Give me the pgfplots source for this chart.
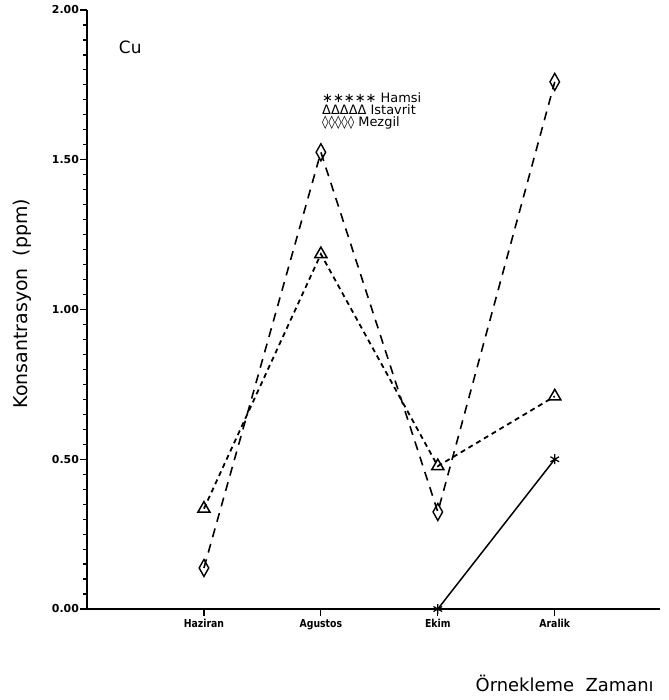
\documentclass[border=0pt]{standalone}
\usepackage{fontspec}
\setmainfont{DejaVu Sans}
\newfontfamily\condfont[FakeStretch=0.85]{DejaVu Sans}
\usepackage{pgfplots}
\pgfplotsset{compat=1.18}

\begin{document}
\begin{tikzpicture}
% page = 669 x 700 bp, axis origin at (87,91) from lower left
\useasboundingbox (-87bp,-91bp) rectangle (582bp,609bp);
\begin{axis}[
    at={(0,0)}, anchor=south west,
    scale only axis,
    width=573bp, height=599bp,
    xmin=0, xmax=4.9, ymin=0, ymax=2,
    axis lines=left,
    axis line style={-, line width=1.5pt},
    clip=false,
    xtick={1,2,3,4},
    xticklabels={Haziran,Agustos,Ekim,Aralik},
    ytick={0,0.5,1,1.5,2},
    yticklabels={0.00,0.50,1.00,1.50,2.00},
    minor y tick num=9,
    tick align=outside,
    major tick length=6.5bp,
    minor tick length=4bp,
    tick style={black, line width=1.2pt},
    y tick label style={font=\bfseries\fontsize{11}{11}\selectfont, xshift=2bp},
    x tick label style={font=\condfont\bfseries\fontsize{11}{11}\selectfont},
    ylabel={Konsantrasyon\ \ (ppm)},
    ylabel style={font=\fontsize{19}{19}\selectfont, at={(axis description cs:-0.113,0.51)}, anchor=center},
    xlabel={Örnekleme\ \ Zamanı},
    xlabel style={font=\fontsize{18}{18}\selectfont, at={(axis description cs:0.995,-0.1235)}, anchor=east},
]
% Hamsi
\addplot[black, line width=1.5pt, mark=asterisk, mark size=5bp, mark options={solid, line width=1.2pt}]
    coordinates {(3,0) (4,0.50)};
% Istavrit
\addplot[black, line width=1.8pt, dash pattern=on 5bp off 4bp, mark=triangle, mark size=7bp, mark options={solid, line width=1.5pt}]
    coordinates {(1,0.335) (2,1.185) (3,0.477) (4,0.71)};
% Mezgil
\addplot[black, line width=1.6pt, dash pattern=on 9bp off 7bp, mark=diamond, mark size=8.5bp, mark options={solid, xscale=0.75, line width=1.4pt}]
    coordinates {(1,0.137) (2,1.525) (3,0.324) (4,1.76)};

\node[font=\fontsize{17}{17}\selectfont] at (axis cs:0.37,1.875) {Cu};
\node[anchor=west, align=left, font=\fontsize{13}{12}\selectfont, inner sep=0pt]
    at (axis cs:2.01,1.663) {∗∗∗∗∗ Hamsi\\ΔΔΔΔΔ Istavrit\\◊◊◊◊◊ Mezgil};
\end{axis}
\end{tikzpicture}
\end{document}
